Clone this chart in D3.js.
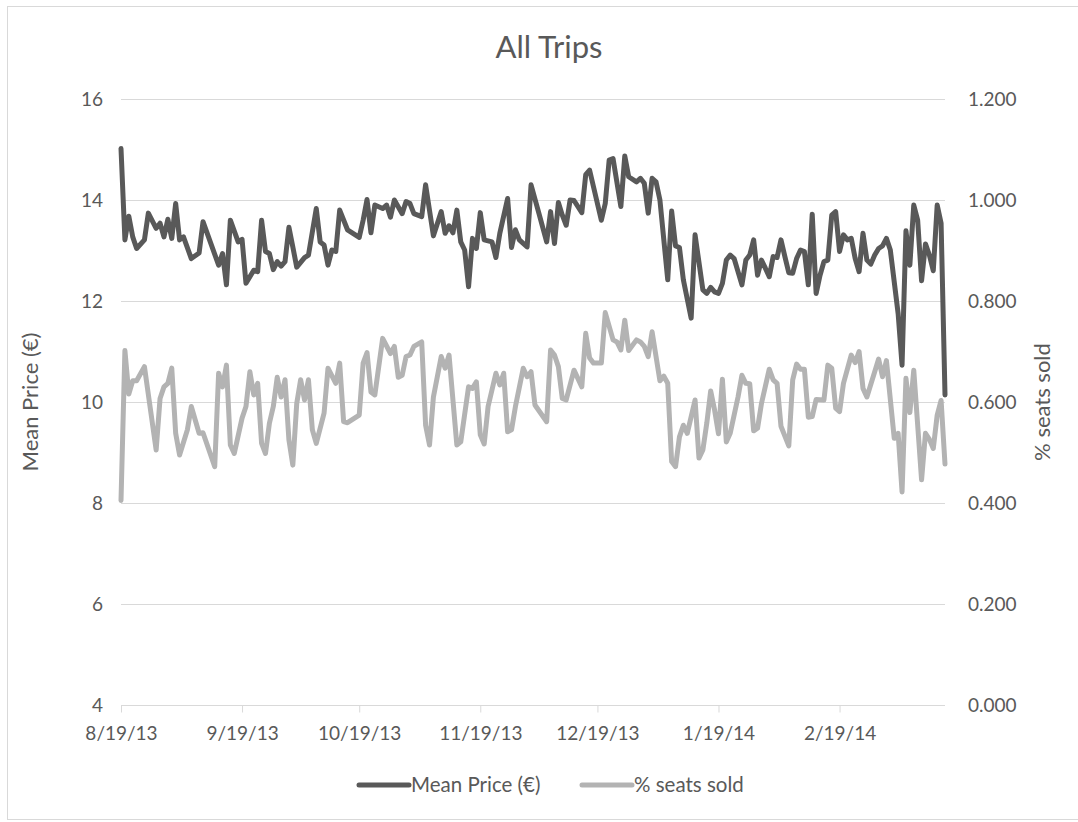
<!DOCTYPE html>
<html>
<head>
<meta charset="utf-8">
<script src="https://cdn.jsdelivr.net/npm/d3@7/dist/d3.min.js"></script>
<style>
  html, body { margin: 0; padding: 0; background: #ffffff; }
  svg { display: block; font-family: Lato, "Liberation Sans", sans-serif; }
</style>
</head>
<body>
<svg id="chart" width="1078" height="822"></svg>
<script>
// Daily series, indexed by days since the first trip date (8/19/13)
const startDate = "2013-08-19";
const lastDay = 211;

const priceDay = [0,1,2,3,4,6,7,9,10,11,12,13,14,15,16,18,20,21,25,26,27,28,30,31,32,34,35,36,37,38,39,40,41,42,43,44,45,47,48,50,51,52,53,54,55,56,58,61,62,63,64,65,67,68,69,70,72,73,74,75,77,78,80,82,83,84,85,86,87,88,89,90,91,92,93,95,96,97,99,100,101,102,104,105,107,109,110,111,112,113,114,115,116,118,119,120,123,124,125,126,128,129,130,132,133,134,135,136,137,138,140,141,142,143,144,146,147,149,150,151,152,153,154,155,156,157,159,160,161,162,163,164,165,166,167,168,169,170,171,172,173,174,175,176,177,178,179,180,181,182,183,184,185,186,187,188,189,190,191,192,193,194,195,196,197,199,200,201,202,203,204,205,206,207,208,209,210,211];
const priceValue = [15.02,13.21,13.68,13.27,13.04,13.21,13.74,13.44,13.54,13.27,13.62,13.24,13.93,13.21,13.27,12.84,12.95,13.57,12.71,12.94,12.32,13.60,13.17,13.22,12.35,12.61,12.58,13.60,12.98,12.94,12.62,12.78,12.69,12.78,13.46,13.07,12.67,12.86,12.91,13.83,13.17,13.11,12.71,13.01,12.98,13.80,13.41,13.26,13.60,14.01,13.35,13.90,13.83,13.90,13.66,14.00,13.73,13.97,13.93,13.73,13.67,14.30,13.29,13.77,13.34,13.49,13.35,13.80,13.17,13.01,12.28,13.24,13.04,13.75,13.21,13.17,12.86,13.34,14.03,13.06,13.41,13.21,13.07,14.30,13.74,13.17,13.77,13.14,13.95,13.70,13.50,14.00,13.99,13.75,14.50,14.59,13.60,13.93,14.79,14.82,13.87,14.87,14.46,14.36,14.43,14.33,13.74,14.43,14.36,14.00,12.42,13.78,13.09,13.06,12.42,11.66,13.31,12.22,12.15,12.27,12.18,12.15,12.35,12.81,12.91,12.84,12.32,12.81,12.91,13.21,12.51,12.81,12.65,12.48,12.88,12.86,13.21,12.88,12.56,12.55,12.84,13.01,12.98,12.32,13.72,12.15,12.51,12.78,12.81,13.70,13.77,12.98,13.31,13.21,13.24,12.84,12.58,13.34,12.81,12.73,12.91,13.04,13.09,13.24,13.01,11.75,10.73,13.39,12.71,13.90,13.60,12.40,13.13,12.91,12.60,13.90,13.54,10.14];

const seatDay = [0,1,2,3,4,6,9,10,11,12,13,14,15,17,18,20,21,24,25,26,27,28,29,31,32,33,34,35,36,37,38,39,40,41,42,43,44,45,46,47,48,49,50,52,53,55,56,57,58,61,62,63,64,65,66,67,69,70,71,72,73,74,75,77,78,79,80,82,83,84,86,87,89,90,91,92,93,94,96,97,98,99,100,101,103,104,105,106,109,110,111,112,113,114,116,118,119,120,121,123,124,126,127,128,129,130,132,133,134,135,136,138,139,140,141,142,143,144,145,147,148,149,150,151,152,153,154,155,156,158,159,160,161,162,163,164,166,167,168,169,171,172,173,174,175,176,177,178,180,181,182,183,184,185,187,188,189,190,191,193,194,195,196,198,199,200,201,202,203,205,206,207,208,209,210,211];
const seatValue = [0.405,0.702,0.616,0.642,0.642,0.670,0.505,0.607,0.630,0.637,0.667,0.538,0.495,0.545,0.591,0.538,0.539,0.472,0.657,0.630,0.673,0.515,0.498,0.568,0.591,0.660,0.614,0.637,0.518,0.498,0.558,0.591,0.649,0.610,0.644,0.525,0.475,0.597,0.644,0.604,0.644,0.545,0.518,0.578,0.667,0.637,0.677,0.561,0.559,0.574,0.677,0.698,0.620,0.614,0.670,0.726,0.696,0.710,0.649,0.653,0.690,0.693,0.710,0.719,0.554,0.515,0.610,0.690,0.667,0.693,0.515,0.521,0.630,0.627,0.640,0.535,0.517,0.591,0.657,0.634,0.657,0.541,0.545,0.591,0.667,0.650,0.660,0.594,0.561,0.703,0.693,0.670,0.607,0.604,0.663,0.630,0.736,0.687,0.677,0.677,0.777,0.723,0.719,0.703,0.762,0.702,0.723,0.719,0.710,0.690,0.739,0.642,0.651,0.637,0.482,0.472,0.531,0.554,0.538,0.604,0.489,0.505,0.558,0.622,0.584,0.537,0.645,0.521,0.538,0.610,0.653,0.637,0.636,0.543,0.548,0.597,0.665,0.644,0.637,0.552,0.513,0.644,0.675,0.665,0.665,0.570,0.571,0.605,0.604,0.673,0.667,0.588,0.581,0.637,0.693,0.678,0.700,0.627,0.610,0.660,0.685,0.650,0.682,0.528,0.538,0.422,0.647,0.579,0.663,0.446,0.538,0.526,0.508,0.574,0.603,0.477];

const xTickDates = ["2013-08-19","2013-09-19","2013-10-19","2013-11-19","2013-12-19","2014-01-19","2014-02-19"];
const priceTicks = [4,6,8,10,12,14,16];
const seatTicks = [0,0.2,0.4,0.6,0.8,1.0,1.2];

const titleText = "All Trips";
const priceLabel = "Mean Price (\u20AC)";
const seatLabel = "% seats sold";

// Colours and layout
const textColor = "#595959";
const gridColor = "#d9d9d9";
const priceColor = "#595959";
const seatColor = "#b3b3b3";
const plot = { left: 121, right: 945, top: 99, bottom: 705 };
const tickFont = "19px";

const svg = d3.select("#chart");
const parse = d3.utcParse("%Y-%m-%d");
const t0 = parse(startDate);
const dayToDate = d => d3.utcDay.offset(t0, d);

const x = d3.scaleUtc()
  .domain([t0, dayToDate(lastDay)])
  .range([plot.left, plot.right]);
const yPrice = d3.scaleLinear().domain([4, 16]).range([plot.bottom, plot.top]);
const ySeat = d3.scaleLinear().domain([0, 1.2]).range([plot.bottom, plot.top]);

// Outer chart border
svg.append("rect")
  .attr("x", 7.5).attr("y", 6.5)
  .attr("width", 1080).attr("height", 813)
  .attr("fill", "none").attr("stroke", gridColor).attr("stroke-width", 1);

// Title
svg.append("text")
  .attr("x", 549).attr("y", 58)
  .attr("text-anchor", "middle")
  .attr("fill", textColor)
  .style("font-size", "31px")
  .text(titleText);

// Horizontal gridlines (shared by both value axes)
svg.append("g")
  .selectAll("line")
  .data(priceTicks.filter(v => v !== 4))
  .join("line")
  .attr("x1", plot.left).attr("x2", plot.right)
  .attr("y1", d => Math.round(yPrice(d)) + 0.5)
  .attr("y2", d => Math.round(yPrice(d)) + 0.5)
  .attr("stroke", gridColor).attr("stroke-width", 1);

// Left axis labels
const leftAxis = d3.axisLeft(yPrice).tickValues(priceTicks).tickSize(0).tickPadding(18);
const gLeft = svg.append("g").attr("transform", `translate(${plot.left},0)`).call(leftAxis);
gLeft.select(".domain").remove();
gLeft.selectAll("text").attr("fill", textColor).style("font-size", tickFont).style("font-family", "Lato, sans-serif");

// Right axis labels
const rightAxis = d3.axisRight(ySeat).tickValues(seatTicks).tickSize(0).tickPadding(23).tickFormat(d3.format(".3f"));
const gRight = svg.append("g").attr("transform", `translate(${plot.right},0)`).call(rightAxis);
gRight.select(".domain").remove();
gRight.selectAll("text").attr("fill", textColor).style("font-size", tickFont).style("font-family", "Lato, sans-serif");

// Bottom date axis
const bottomAxis = d3.axisBottom(x)
  .tickValues(xTickDates.map(parse))
  .tickSize(7).tickPadding(14)
  .tickFormat(d3.utcFormat("%-m/%-d/%y"));
const gBottom = svg.append("g").attr("transform", `translate(0,${Math.round(plot.bottom) + 0.5})`).call(bottomAxis);
gBottom.select(".domain")
  .attr("d", `M${plot.left},0H${plot.right}`)
  .attr("stroke", gridColor);
gBottom.selectAll(".tick line").attr("stroke", gridColor);
gBottom.selectAll("text").attr("fill", textColor).style("font-size", tickFont).style("font-family", "Lato, sans-serif");

// Axis titles
svg.append("text")
  .attr("transform", `translate(38,${(plot.top + plot.bottom) / 2}) rotate(-90)`)
  .attr("text-anchor", "middle")
  .attr("fill", textColor)
  .style("font-size", "22px")
  .text(priceLabel);

svg.append("text")
  .attr("transform", `translate(1050,${(plot.top + plot.bottom) / 2}) rotate(-90)`)
  .attr("text-anchor", "middle")
  .attr("fill", textColor)
  .style("font-size", "22px")
  .text(seatLabel);

// Series lines
const priceData = priceDay.map((d, i) => ({ date: dayToDate(d), value: priceValue[i] }));
const seatData = seatDay.map((d, i) => ({ date: dayToDate(d), value: seatValue[i] }));

const priceLine = d3.line().x(d => x(d.date)).y(d => yPrice(d.value));
const seatLine = d3.line().x(d => x(d.date)).y(d => ySeat(d.value));

svg.append("path")
  .datum(seatData)
  .attr("d", seatLine)
  .attr("fill", "none")
  .attr("stroke", seatColor)
  .attr("stroke-width", 5)
  .attr("stroke-linejoin", "round")
  .attr("stroke-linecap", "round");

svg.append("path")
  .datum(priceData)
  .attr("d", priceLine)
  .attr("fill", "none")
  .attr("stroke", priceColor)
  .attr("stroke-width", 5)
  .attr("stroke-linejoin", "round")
  .attr("stroke-linecap", "round");

// Legend
const legendItems = [
  { label: priceLabel, color: priceColor, x: 357 },
  { label: seatLabel, color: seatColor, x: 580 }
];
const legend = svg.append("g").attr("transform", "translate(0,785)");
const li = legend.selectAll("g").data(legendItems).join("g")
  .attr("transform", d => `translate(${d.x},0)`);
li.append("line")
  .attr("x1", 2).attr("x2", 52).attr("y1", 0).attr("y2", 0)
  .attr("stroke", d => d.color).attr("stroke-width", 5)
  .attr("stroke-linecap", "round");
li.append("text")
  .attr("x", 54).attr("y", 0).attr("dy", "0.35em")
  .attr("fill", textColor)
  .style("font-size", "20.5px")
  .text(d => d.label);
</script>
</body>
</html>
